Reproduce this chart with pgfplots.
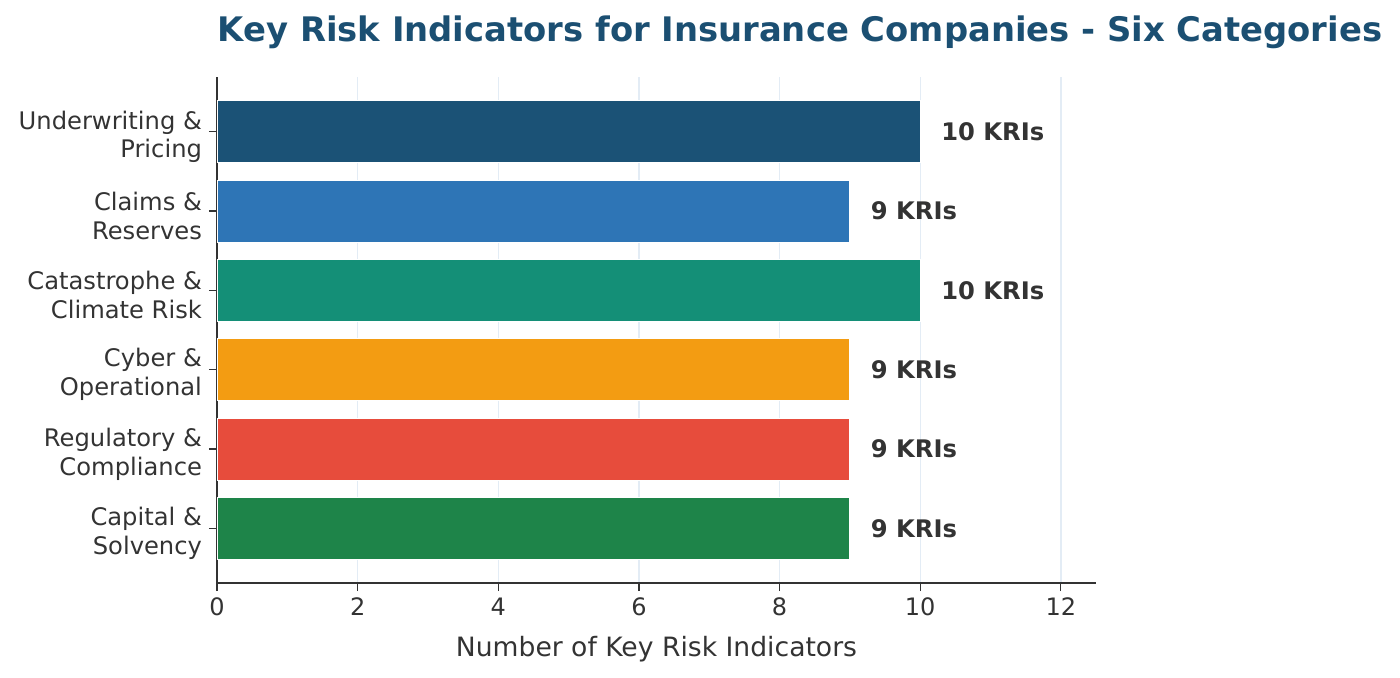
\documentclass[border=0pt]{standalone}
\usepackage{pgfplots}
\pgfplotsset{compat=1.18}
\usepackage{fontspec}
\setmainfont{DejaVu Sans}
\definecolor{c1}{HTML}{1B5276}
\definecolor{c2}{HTML}{2E75B6}
\definecolor{c3}{HTML}{148F77}
\definecolor{c4}{HTML}{F39C12}
\definecolor{c5}{HTML}{E74C3C}
\definecolor{c6}{HTML}{1E8449}
\definecolor{txt}{HTML}{333333}
\definecolor{ttl}{HTML}{1B4F72}
\definecolor{gridc}{HTML}{E3ECF5}
\begin{document}
\begin{tikzpicture}
\useasboundingbox (-108.5pt,-47.5pt) rectangle (591.5pt,291.5pt);
\begin{axis}[
  at={(0,0)}, anchor=south west,
  scale only axis, width=439.5pt, height=253pt,
  xmin=0, xmax=12.5, ymin=-0.69, ymax=5.69, y dir=reverse,
  xbar, bar shift=0pt, bar width=0.78,
  axis x line*=bottom, axis y line*=left,
  axis line style={txt, line width=0.7pt},
  every tick/.style={txt, line width=0.6pt},
  tick align=outside, major tick length=4pt,
  xtick={0,2,4,6,8,10,12},
  ytick={0,1,2,3,4,5},
  yticklabels={{Underwriting \&\\Pricing},{Claims \&\\Reserves},{Catastrophe \&\\Climate Risk},{Cyber \&\\Operational},{Regulatory \&\\Compliance},{Capital \&\\Solvency}},
  yticklabel style={align=right, font=\fontsize{12.1}{14.4}\selectfont, text=txt, yshift=-2.5pt},
  xticklabel style={font=\fontsize{12}{14}\selectfont, text=txt},
  /pgf/number format/assume math mode=true,
  xmajorgrids, ymajorgrids=false,
  major grid style={gridc, line width=0.7pt},
  xlabel={Number of Key Risk Indicators},
  xlabel style={font=\fontsize{13.3}{16}\selectfont, text=txt, yshift=-3pt},
  point meta=explicit symbolic,
  nodes near coords,
  nodes near coords style={font=\fontsize{12.1}{15}\selectfont\bfseries, text=txt, anchor=west, xshift=7pt},
]
\addplot[fill=c1, draw=white, line width=0.4pt] coordinates {(10,0) [10 KRIs]};
\addplot[fill=c2, draw=white, line width=0.4pt] coordinates {(9,1) [9 KRIs]};
\addplot[fill=c3, draw=white, line width=0.4pt] coordinates {(10,2) [10 KRIs]};
\addplot[fill=c4, draw=white, line width=0.4pt] coordinates {(9,3) [9 KRIs]};
\addplot[fill=c5, draw=white, line width=0.4pt] coordinates {(9,4) [9 KRIs]};
\addplot[fill=c6, draw=white, line width=0.4pt] coordinates {(9,5) [9 KRIs]};
\end{axis}
\node[font=\fontsize{16.9}{20}\selectfont\bfseries, text=ttl] at (291.5pt,275.5pt) {Key Risk Indicators for Insurance Companies - Six Categories};
\end{tikzpicture}
\end{document}
